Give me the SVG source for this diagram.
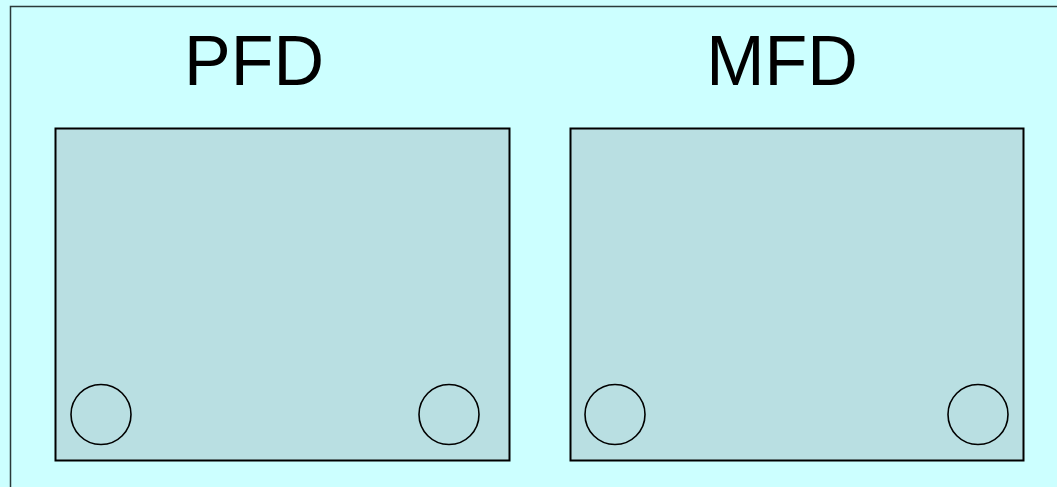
<svg xmlns="http://www.w3.org/2000/svg" width="1057" height="487" viewBox="0 0 1057 487">
<style>
.bg{fill:#ccffff}
.frame{fill:#ccffff;stroke:#2a3a3a;stroke-width:1.5}
.panel{fill:#b9dfe2;stroke:#000;stroke-width:2}
.knob{fill:none;stroke:#000;stroke-width:1.6}
.title{font-family:"Liberation Sans",Arial,sans-serif;font-size:70px;fill:#000;text-anchor:middle}
</style>
<rect class="bg" x="0" y="0" width="1057" height="487"/>
<rect class="frame" x="10.5" y="6.5" width="1060" height="500"/>
<g id="pfd">
<text class="title" x="254" y="85">PFD</text>
<rect class="panel" x="55.5" y="128.5" width="454" height="332"/>
<circle class="knob" cx="101" cy="414.5" r="30"/>
<circle class="knob" cx="449" cy="414.5" r="30"/>
</g>
<g id="mfd">
<text class="title" x="782" y="85">MFD</text>
<rect class="panel" x="570.5" y="128.5" width="453" height="332"/>
<circle class="knob" cx="615" cy="414.5" r="30"/>
<circle class="knob" cx="978" cy="414.5" r="30"/>
</g>
<g id="connectors"/>
</svg>
